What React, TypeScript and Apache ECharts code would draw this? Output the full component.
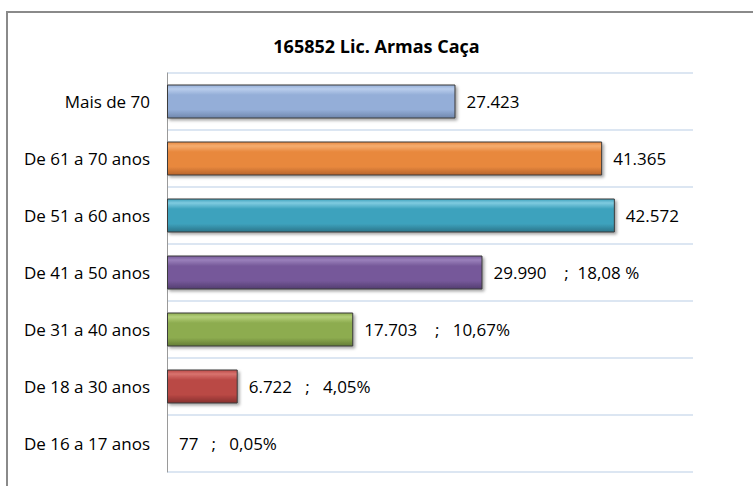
import React, { useEffect, useRef } from "react";
import * as echarts from "echarts";

const titleText = "165852 Lic. Armas Caça";
const categories = [
  "Mais de 70",
  "De 61 a 70 anos",
  "De 51 a 60 anos",
  "De 41 a 50 anos",
  "De 31 a 40 anos",
  "De 18 a 30 anos",
  "De 16 a 17 anos",
];
const values = [27423, 41365, 42572, 29990, 17703, 6722, 77];
const valueLabels = [
  "27.423",
  "41.365",
  "42.572",
  "29.990    ;  18,08 %",
  "17.703    ;   10,67%",
  "6.722   ;   4,05%",
  "77   ;   0,05%",
];
const barColors = [
  ["#b9cdec", "#94aed8", "#6f87ad"],
  ["#f5ad70", "#e8883e", "#b7642a"],
  ["#7fcbe0", "#3ea2bd", "#2a7489"],
  ["#9a80bb", "#76599a", "#533d70"],
  ["#b4cf7c", "#8dac4f", "#647c36"],
  ["#d8736f", "#ba4845", "#86302d"],
  ["#d8736f", "#ba4845", "#86302d"],
];

const FONT = "Open Sans";

export default function App() {
  const ref = useRef<HTMLDivElement>(null);
  useEffect(() => {
    if (!ref.current) return;
    const chart = echarts.init(ref.current, undefined, { renderer: "svg" });
    const data = values.map((v, i) => ({
      value: v,
      itemStyle: {
        color: new echarts.graphic.LinearGradient(0, 0, 0, 1, [
          { offset: 0, color: barColors[i][1] },
          { offset: 0.12, color: barColors[i][0] },
          { offset: 0.3, color: barColors[i][1] },
          { offset: 0.75, color: barColors[i][1] },
          { offset: 1, color: barColors[i][2] },
        ]),
        borderColor: "#3a3a3a",
        borderWidth: 1,
        shadowColor: "rgba(0,0,0,0.35)",
        shadowBlur: 3,
        shadowOffsetX: 2,
        shadowOffsetY: 2,
      },
      label: { formatter: valueLabels[i] },
    }));
    chart.setOption({
      animation: false,
      backgroundColor: "#ffffff",
      title: {
        text: titleText,
        left: "center",
        top: 32,
        textStyle: { fontFamily: FONT, fontSize: 18, fontWeight: "bold", color: "#000" },
      },
      graphic: [
        {
          type: "rect",
          shape: { x: 7, y: 12, width: 800, height: 520 },
          style: { fill: "none", stroke: "#8a8a8a", lineWidth: 2 },
          silent: true,
        },
      ],
      grid: { left: 167, top: 73, width: 526, height: 399, containLabel: false },
      xAxis: {
        type: "value",
        min: 0,
        max: 50000,
        show: false,
        splitLine: { show: false },
      },
      yAxis: {
        type: "category",
        data: categories,
        inverse: true,
        axisLine: { show: true, lineStyle: { color: "#9a9a9a", width: 1 } },
        axisTick: { show: false },
        axisLabel: { fontFamily: FONT, fontSize: 17, color: "#000", margin: 17 },
        splitLine: { show: true, lineStyle: { color: "#dce6f2", width: 2 } },
      },
      series: [
        {
          type: "bar",
          data,
          barWidth: 34,
          label: {
            show: true,
            position: "right",
            distance: 11,
            fontFamily: FONT,
            fontSize: 17,
            color: "#000",
          },
        },
      ],
    });
    return () => chart.dispose();
  }, []);
  return (
    <div
      ref={ref}
      style={{ position: "fixed", left: 0, top: 0, width: 753, height: 486 }}
    />
  );
}
